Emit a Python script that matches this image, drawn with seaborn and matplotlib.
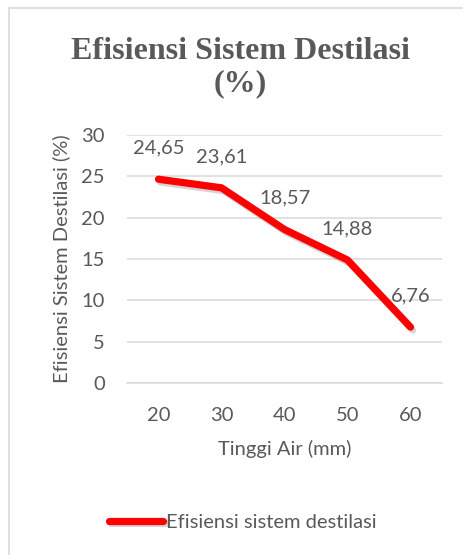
import numpy as np
import pandas as pd
import matplotlib
matplotlib.use("Agg")
import matplotlib.pyplot as plt
import matplotlib.patheffects as pe
from matplotlib.patches import Rectangle
import seaborn as sns

# data
tinggi_air = ["20", "30", "40", "50", "60"]
efisiensi = [24.65, 23.61, 18.57, 14.88, 6.76]
nilai_label = ["24,65", "23,61", "18,57", "14,88", "6,76"]
y_ticks = [0, 5, 10, 15, 20, 25, 30]

title_text = "Efisiensi Sistem Destilasi\n(%)"
x_label = "Tinggi Air (mm)"
y_label = "Efisiensi Sistem Destilasi (%)"
legend_label = "Efisiensi sistem destilasi"

df = pd.DataFrame({"tinggi": tinggi_air, "efisiensi": efisiensi})

sns.set_theme(style="white")
plt.rcParams["font.family"] = ["Lato", "DejaVu Sans"]
text_col = "#595959"
grid_col = "#d9d9d9"
fs = 14.5

fig = plt.figure(figsize=(4.63, 5.55), dpi=100)
ax = fig.add_axes([127 / 463, 1 - 383 / 555, 315 / 463, 248 / 555])

# chart frame (cut off at right/bottom like the reference)
fig.patches.append(Rectangle((9 / 463, -0.2), 1.5, 1.2 - 8 / 555,
                             transform=fig.transFigure, fill=False,
                             edgecolor=grid_col, linewidth=1.2))

sns.lineplot(data=df, x="tinggi", y="efisiensi", ax=ax, color="#ff0000",
             linewidth=5.2, solid_capstyle="round", solid_joinstyle="round",
             label=legend_label, legend=False, sort=False,
             path_effects=[pe.SimpleLineShadow(offset=(1.5, -2), alpha=0.25, shadow_color="#555555"),
                           pe.Normal()])

for x, y, lab in zip(tinggi_air, efisiensi, nilai_label):
    ax.annotate(lab, (x, y), xytext=(0, 22.5), textcoords="offset points",
                ha="center", va="center", fontsize=fs, color=text_col)

ax.set_xlim(-0.5, 4.5)
ax.set_ylim(0, 30)
ax.set_yticks(y_ticks)
ax.yaxis.grid(True, color=grid_col, linewidth=1.1)
ax.set_axisbelow(True)
for s in ["top", "right", "left"]:
    ax.spines[s].set_visible(False)
ax.spines["bottom"].set_color(grid_col)
ax.spines["bottom"].set_linewidth(1.1)
ax.tick_params(axis="both", length=0, labelsize=fs, labelcolor=text_col)
ax.tick_params(axis="y", pad=16)
ax.tick_params(axis="x", pad=17)

ax.set_xlabel(x_label, fontsize=fs, color=text_col, labelpad=12)
ax.set_ylabel(y_label, fontsize=fs, color=text_col, labelpad=8)

fig.text(240 / 463, 1 - 68 / 555, title_text, ha="center", va="center",
         fontsize=23, fontweight="bold", family="Liberation Serif",
         color=text_col, linespacing=1.15)

handles, labels = ax.get_legend_handles_labels()
fig.legend(handles, labels, loc="center", bbox_to_anchor=(243 / 463, 1 - 522 / 555),
           frameon=False, fontsize=fs, handlelength=2.7, handletextpad=0.15,
           labelcolor=text_col)

fig.savefig("out.png", dpi=100)
